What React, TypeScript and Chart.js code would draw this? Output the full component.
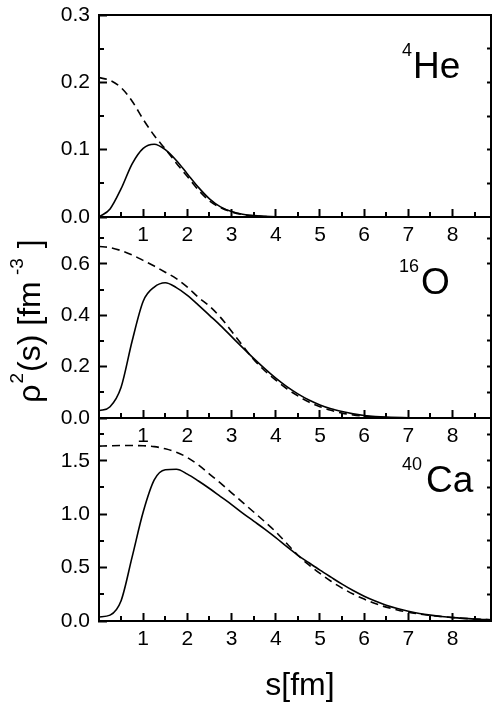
import React, { useEffect, useRef } from 'react';
import { Chart, registerables } from 'chart.js';

Chart.register(...registerables);

const FONT = '"Liberation Sans", Arial, Helvetica, sans-serif';
const BLACK = '#000000';

// ---------- data ----------
const xMajorTicks = [1, 2, 3, 4, 5, 6, 7, 8];
const xTickLabels = ['1', '2', '3', '4', '5', '6', '7', '8'];
const xMinorTicks = [0.5, 1.5, 2.5, 3.5, 4.5, 5.5, 6.5, 7.5, 8.5];
const X_MAX = 8.87;

// 4He
const heS = [0, 0.25, 0.5, 0.75, 1, 1.25, 1.5, 1.75, 2, 2.25, 2.5, 2.75, 3, 3.25, 3.5, 3.75, 4, 4.5, 5, 6, 7, 8, 8.9];
const heSolid = [0, 0.012, 0.042, 0.079, 0.102, 0.108, 0.1, 0.084, 0.064, 0.044, 0.027, 0.015, 0.008, 0.004, 0.002, 0.001, 0.0004, 0, 0, 0, 0, 0, 0];
const heDashed = [0.207, 0.203, 0.192, 0.172, 0.145, 0.121, 0.101, 0.08, 0.06, 0.04, 0.024, 0.014, 0.0075, 0.0038, 0.0018, 0.0008, 0.0003, 0, 0, 0, 0, 0, 0];
const heYTicks = [0, 0.1, 0.2, 0.3];
const heYLabels = ['0.0', '0.1', '0.2', '0.3'];
const heYMinor = [0.05, 0.15, 0.25];
const heRightTicks = [0.05, 0.1, 0.15, 0.2, 0.25];

// 16O
const oS = [0, 0.25, 0.5, 0.75, 1, 1.25, 1.5, 1.75, 2, 2.25, 2.5, 2.75, 3, 3.25, 3.5, 3.75, 4, 4.25, 4.5, 4.75, 5, 5.25, 5.5, 5.75, 6, 6.25, 6.5, 7, 7.5, 8, 8.9];
const oSolid = [0.028, 0.044, 0.12, 0.3, 0.455, 0.51, 0.527, 0.508, 0.478, 0.44, 0.4, 0.36, 0.317, 0.274, 0.232, 0.192, 0.155, 0.122, 0.094, 0.07, 0.051, 0.036, 0.025, 0.016, 0.01, 0.006, 0.0035, 0.001, 0.0002, 0, 0];
const oDashed = [0.668, 0.664, 0.652, 0.635, 0.614, 0.592, 0.568, 0.543, 0.51, 0.47, 0.436, 0.392, 0.338, 0.282, 0.228, 0.184, 0.148, 0.114, 0.086, 0.062, 0.044, 0.03, 0.019, 0.012, 0.007, 0.0035, 0.0015, 0.0003, 0, 0, 0];
const oYTicks = [0, 0.2, 0.4, 0.6];
const oYLabels = ['0.0', '0.2', '0.4', '0.6'];
const oYMinor = [0.1, 0.3, 0.5, 0.7];
const oRightTicks = [0.1, 0.2, 0.3, 0.4, 0.6, 0.7];

// 40Ca
const caS = [0, 0.25, 0.5, 0.75, 1, 1.25, 1.5, 1.75, 2, 2.25, 2.5, 2.75, 3, 3.25, 3.5, 3.75, 4, 4.25, 4.5, 4.75, 5, 5.25, 5.5, 5.75, 6, 6.25, 6.5, 6.75, 7, 7.25, 7.5, 7.75, 8, 8.5, 8.9];
const caSolid = [0.038, 0.055, 0.19, 0.6, 1.02, 1.32, 1.415, 1.42, 1.375, 1.31, 1.24, 1.165, 1.09, 1.01, 0.935, 0.86, 0.78, 0.695, 0.615, 0.545, 0.476, 0.41, 0.345, 0.285, 0.232, 0.187, 0.148, 0.117, 0.092, 0.071, 0.055, 0.042, 0.032, 0.018, 0.01];
const caDashed = [1.637, 1.64, 1.642, 1.642, 1.64, 1.632, 1.612, 1.58, 1.53, 1.46, 1.375, 1.29, 1.2, 1.11, 1.02, 0.93, 0.835, 0.725, 0.615, 0.525, 0.445, 0.372, 0.308, 0.252, 0.205, 0.163, 0.13, 0.103, 0.082, 0.065, 0.052, 0.042, 0.033, 0.018, 0.01];
const caYTicks = [0, 0.5, 1.0, 1.5];
const caYLabels = ['0.0', '0.5', '1.0', '1.5'];
const caYMinor = [0.25, 0.75, 1.25, 1.75];
const caRightTicks = [0.25, 0.5, 0.75, 1.0, 1.25, 1.5, 1.75];

// ---------- layout ----------
const PAD_TOP = 10;

type TextFn = (ctx: CanvasRenderingContext2D, oy: number) => void;

interface Panel {
  s: number[];
  solid: number[];
  dashed: number[];
  yMax: number;
  yTicks: number[];
  yLabels: string[];
  yMinor: number[];
  yRight: number[];
  top: number;
  bottom: number;
  canvasBottom: number;
  text: TextFn;
}

function drawNucleus(ctx: CanvasRenderingContext2D, oy: number, sup: string, supX: number, supY: number, main: string, mainX: number, mainY: number) {
  ctx.save();
  ctx.fillStyle = BLACK;
  ctx.textAlign = 'left';
  ctx.textBaseline = 'alphabetic';
  ctx.font = `18px ${FONT}`;
  ctx.fillText(sup, supX, supY - oy);
  ctx.font = `37px ${FONT}`;
  ctx.fillText(main, mainX, mainY - oy);
  ctx.restore();
}

function drawYTitle(ctx: CanvasRenderingContext2D, oy: number) {
  const main = `32px ${FONT}`;
  const sup = `19px ${FONT}`;
  const parts: [string, boolean][] = [
    ['\u03C1', false],
    ['2', true],
    ['(s) [fm', false],
    [' -3', true],
    [' ]', false],
  ];
  ctx.save();
  let total = 0;
  for (const [t, isSup] of parts) {
    ctx.font = isSup ? sup : main;
    total += ctx.measureText(t).width + (isSup ? 2 : 0);
  }
  const centerY = 321;
  const baseX = 40;
  ctx.translate(baseX, centerY + total / 2 - oy);
  ctx.rotate(-Math.PI / 2);
  ctx.fillStyle = BLACK;
  ctx.textAlign = 'left';
  ctx.textBaseline = 'alphabetic';
  let x = 0;
  for (const [t, isSup] of parts) {
    ctx.font = isSup ? sup : main;
    if (isSup) x += 1;
    ctx.fillText(t, x, isSup ? -17 : 0);
    x += ctx.measureText(t).width + (isSup ? 1 : 0);
  }
  ctx.restore();
}

function drawXTitle(ctx: CanvasRenderingContext2D, oy: number) {
  ctx.save();
  ctx.fillStyle = BLACK;
  ctx.font = `32px ${FONT}`;
  ctx.textAlign = 'center';
  ctx.textBaseline = 'alphabetic';
  ctx.fillText('s[fm]', 300, 695 - oy);
  ctx.restore();
}

const panels: Panel[] = [
  {
    s: heS, solid: heSolid, dashed: heDashed, yMax: 0.3,
    yTicks: heYTicks, yLabels: heYLabels, yMinor: heYMinor, yRight: heRightTicks,
    top: 15, bottom: 217, canvasBottom: 257,
    text: (ctx, oy) => drawNucleus(ctx, oy, '4', 402, 56, 'He', 413, 78),
  },
  {
    s: oS, solid: oSolid, dashed: oDashed, yMax: 0.783,
    yTicks: oYTicks, yLabels: oYLabels, yMinor: oYMinor, yRight: oRightTicks,
    top: 217, bottom: 418, canvasBottom: 458,
    text: (ctx, oy) => {
      drawNucleus(ctx, oy, '16', 399, 272, 'O', 421, 293.5);
      drawYTitle(ctx, oy);
    },
  },
  {
    s: caS, solid: caSolid, dashed: caDashed, yMax: 1.9,
    yTicks: caYTicks, yLabels: caYLabels, yMinor: caYMinor, yRight: caRightTicks,
    top: 418, bottom: 621, canvasBottom: 702,
    text: (ctx, oy) => {
      drawNucleus(ctx, oy, '40', 402, 470, 'Ca', 426, 492);
      drawXTitle(ctx, oy);
    },
  },
];

function zeroPad(sc: any) {
  sc.paddingLeft = 0;
  sc.paddingRight = 0;
  sc.paddingTop = 0;
  sc.paddingBottom = 0;
}

function PanelChart({ p }: { p: Panel }) {
  const ref = useRef<HTMLCanvasElement>(null);
  const canvasTop = p.top - PAD_TOP;
  const height = p.canvasBottom - canvasTop;
  const xAxisHeight = p.canvasBottom - p.bottom;

  useEffect(() => {
    const canvas = ref.current;
    if (!canvas) return;

    const extras = {
      id: 'panelExtras',
      afterDraw(chart: any) {
        const { ctx, chartArea: a, scales } = chart;
        const xs = scales.x;
        const ys = scales.y;
        ctx.save();
        ctx.strokeStyle = BLACK;
        ctx.lineWidth = 2;
        ctx.beginPath();
        for (const v of xMinorTicks) {
          const px = Math.round(xs.getPixelForValue(v));
          ctx.moveTo(px, a.bottom);
          ctx.lineTo(px, a.bottom - 5);
        }
        for (const v of p.yMinor) {
          const py = Math.round(ys.getPixelForValue(v));
          ctx.moveTo(a.left, py);
          ctx.lineTo(a.left + 5, py);
        }
        ctx.stroke();
        ctx.restore();
        p.text(ctx, canvasTop);
      },
    };

    const font = { family: FONT, size: 21 };

    const chart = new Chart(canvas, {
      type: 'line',
      data: {
        datasets: [
          {
            data: p.s.map((x, i) => ({ x, y: p.solid[i] })),
            borderColor: BLACK,
            borderWidth: 1.6,
            pointRadius: 0,
            fill: false,
            cubicInterpolationMode: 'monotone',
          },
          {
            data: p.s.map((x, i) => ({ x, y: p.dashed[i] })),
            borderColor: BLACK,
            borderWidth: 1.6,
            borderDash: [8, 5],
            pointRadius: 0,
            fill: false,
            cubicInterpolationMode: 'monotone',
          },
        ],
      },
      options: {
        animation: false,
        responsive: false,
        maintainAspectRatio: false,
        events: [],
        layout: { padding: { top: PAD_TOP, left: 0, right: 0, bottom: 0 } },
        plugins: { legend: { display: false }, tooltip: { enabled: false }, title: { display: false } },
        scales: {
          x: {
            type: 'linear',
            position: 'bottom',
            min: 0,
            max: X_MAX,
            afterBuildTicks: (sc: any) => { sc.ticks = xMajorTicks.map((v) => ({ value: v })); },
            afterFit: (sc: any) => { sc.height = xAxisHeight; zeroPad(sc); },
            ticks: {
              color: BLACK,
              font,
              padding: 14,
              maxRotation: 0,
              autoSkip: false,
              callback: (_v: any, i: number) => xTickLabels[i],
            },
            grid: { drawOnChartArea: false, drawTicks: true, tickLength: -8, tickWidth: 2, tickColor: BLACK },
            border: { display: true, width: 2, color: BLACK },
          },
          xt: {
            type: 'linear',
            position: 'top',
            min: 0,
            max: X_MAX,
            afterFit: (sc: any) => { sc.height = 0; zeroPad(sc); },
            ticks: { display: false },
            grid: { display: false },
            border: { display: true, width: 2, color: BLACK },
          },
          y: {
            type: 'linear',
            position: 'left',
            min: 0,
            max: p.yMax,
            afterBuildTicks: (sc: any) => { sc.ticks = p.yTicks.map((v) => ({ value: v })); },
            afterFit: (sc: any) => { sc.width = 99; zeroPad(sc); },
            ticks: {
              color: BLACK,
              font,
              padding: 17,
              autoSkip: false,
              callback: (_v: any, i: number) => p.yLabels[i],
            },
            grid: { drawOnChartArea: false, drawTicks: true, tickLength: -8, tickWidth: 2, tickColor: BLACK },
            border: { display: true, width: 2, color: BLACK },
          },
          yr: {
            type: 'linear',
            position: 'right',
            min: 0,
            max: p.yMax,
            afterBuildTicks: (sc: any) => { sc.ticks = p.yRight.map((v) => ({ value: v })); },
            afterFit: (sc: any) => { sc.width = 1; zeroPad(sc); },
            ticks: { display: false },
            grid: { drawOnChartArea: false, drawTicks: true, tickLength: -4, tickWidth: 2, tickColor: BLACK },
            border: { display: true, width: 2, color: BLACK },
          },
        },
      } as any,
      plugins: [extras],
    });
    return () => chart.destroy();
  }, []);

  return (
    <canvas
      ref={ref}
      width={492}
      height={height}
      style={{ position: 'absolute', left: 0, top: canvasTop, width: 492, height }}
    />
  );
}

export default function App() {
  return (
    <div style={{ position: 'absolute', left: 0, top: 0, width: 492, height: 702, background: '#ffffff' }}>
      {panels.map((p, i) => (
        <PanelChart key={i} p={p} />
      ))}
    </div>
  );
}
